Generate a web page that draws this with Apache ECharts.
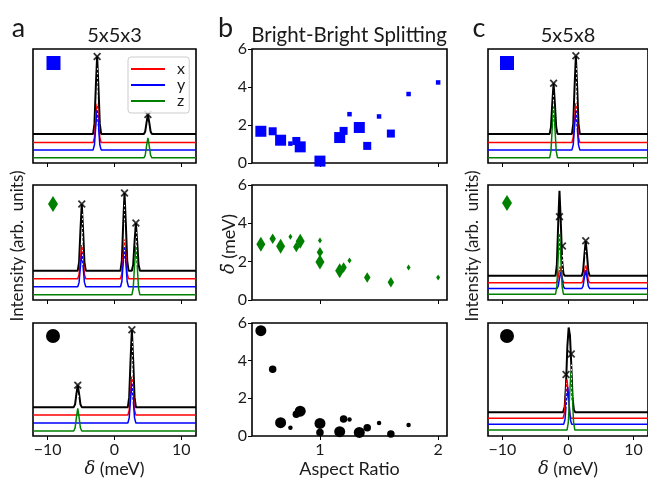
<!DOCTYPE html>
<html>
<head>
<meta charset="utf-8">
<script src="https://cdn.jsdelivr.net/npm/echarts@6/dist/echarts.min.js"></script>
<style>
  html, body { margin: 0; padding: 0; background: #fff; }
  #chart { width: 648px; height: 479px; }
</style>
</head>
<body>
<div id="chart"></div>
<script>
// spectra: [delta (meV), intensity]
const a1Black = [[-12.2,2.55],[-3.2,2.55],[-3.0,3.43],[-2.8,6.63],[-2.6,9.35],[-2.4,6.63],[-2.2,3.43],[-2.0,2.55],[4.4,2.55],[4.6,2.77],[4.8,3.57],[5.0,4.25],[5.2,3.57],[5.4,2.77],[5.6,2.55],[12.2,2.55]];
const a1Red = [[-12.2,1.8],[-3.2,1.8],[-3.0,2.25],[-2.8,3.85],[-2.6,5.2],[-2.4,3.85],[-2.2,2.25],[-2.0,1.8],[12.2,1.8]];
const a1Blue = [[-12.2,1.15],[-3.2,1.15],[-3.0,1.6],[-2.8,3.25],[-2.6,4.65],[-2.4,3.25],[-2.2,1.6],[-2.0,1.15],[12.2,1.15]];
const a1Green = [[-12.2,0.45],[4.4,0.45],[4.6,0.68],[4.8,1.5],[5.0,2.2],[5.2,1.5],[5.4,0.68],[5.6,0.45],[12.2,0.45]];
const a1Marks = [[-2.6,9.35],[5.0,4.25]];

const a2Black = [[-12.2,2.55],[-5.5,2.55],[-5.3,3.3],[-5.1,6.03],[-4.9,8.35],[-4.7,6.03],[-4.5,3.3],[-4.3,2.55],[0.9,2.55],[1.1,3.43],[1.3,6.6],[1.5,9.3],[1.7,6.6],[1.9,3.43],[2.1,2.55],[2.6,2.55],[2.8,3.09],[3.0,5.04],[3.2,6.7],[3.4,5.04],[3.6,3.09],[3.8,2.55],[12.2,2.55]];
const a2Red = [[-12.2,1.85],[-5.5,1.85],[-5.3,2.23],[-5.1,3.61],[-4.9,4.78],[-4.7,3.61],[-4.5,2.23],[-4.3,1.85],[0.9,1.85],[1.1,2.29],[1.3,3.89],[1.5,5.25],[1.7,3.89],[1.9,2.29],[2.1,1.85],[12.2,1.85]];
const a2Blue = [[-12.2,1.15],[-5.5,1.15],[-5.3,1.53],[-5.1,2.92],[-4.9,4.1],[-4.7,2.92],[-4.5,1.53],[-4.3,1.15],[0.9,1.15],[1.1,1.59],[1.3,3.19],[1.5,4.55],[1.7,3.19],[1.9,1.59],[2.1,1.15],[12.2,1.15]];
const a2Green = [[-12.2,0.45],[2.6,0.45],[2.8,1.0],[3.0,3.0],[3.2,4.7],[3.4,3.0],[3.6,1.0],[3.8,0.45],[12.2,0.45]];
const a2Marks = [[-4.9,8.35],[1.5,9.3],[3.2,6.7]];

const a3Black = [[-12.2,2.55],[-6.1,2.55],[-5.9,2.8],[-5.7,3.72],[-5.5,4.5],[-5.3,3.72],[-5.1,2.8],[-4.9,2.55],[2.0,2.55],[2.2,3.44],[2.4,6.66],[2.6,9.4],[2.8,6.66],[3.0,3.44],[3.2,2.55],[12.2,2.55]];
const a3Red = [[-12.2,1.85],[2.0,1.85],[2.2,2.29],[2.4,3.9],[2.6,5.27],[2.8,3.9],[3.0,2.29],[3.2,1.85],[12.2,1.85]];
const a3Blue = [[-12.2,1.15],[2.0,1.15],[2.2,1.6],[2.4,3.24],[2.6,4.63],[2.8,3.24],[3.0,1.6],[3.2,1.15],[12.2,1.15]];
const a3Green = [[-12.2,0.45],[-6.1,0.45],[-5.9,0.71],[-5.7,1.65],[-5.5,2.45],[-5.3,1.65],[-5.1,0.71],[-4.9,0.45],[12.2,0.45]];
const a3Marks = [[-5.5,4.5],[2.6,9.4]];

const c1Black = [[-12.2,2.55],[-2.8,2.55],[-2.6,3.13],[-2.4,5.22],[-2.2,7.0],[-2.0,5.22],[-1.8,3.13],[-1.6,2.55],[0.6,2.55],[0.8,3.44],[1.0,6.66],[1.2,9.4],[1.4,6.66],[1.6,3.44],[1.8,2.55],[12.2,2.55]];
const c1Red = [[-12.2,1.8],[0.6,1.8],[0.8,2.25],[1.0,3.86],[1.2,5.23],[1.4,3.86],[1.6,2.25],[1.8,1.8],[12.2,1.8]];
const c1Blue = [[-12.2,1.15],[0.6,1.15],[0.8,1.59],[1.0,3.2],[1.2,4.57],[1.4,3.2],[1.6,1.59],[1.8,1.15],[12.2,1.15]];
const c1Green = [[-12.2,0.45],[-2.8,0.45],[-2.6,1.04],[-2.4,3.15],[-2.2,4.95],[-2.0,3.15],[-1.8,1.04],[-1.6,0.45],[12.2,0.45]];
const c1Marks = [[-2.2,7.0],[1.2,9.4]];

const c2Black = [[-12.2,2.1],[-1.9,2.1],[-1.7,3.06],[-1.5,6.54],[-1.3,9.5],[-1.1,6.8],[-0.9,3.5],[-0.7,2.3],[-0.5,2.1],[2.1,2.1],[2.3,2.5],[2.5,3.93],[2.7,5.15],[2.9,3.93],[3.1,2.5],[3.3,2.1],[12.2,2.1]];
const c2Red = [[-12.2,1.5],[-1.8,1.5],[-1.6,1.68],[-1.4,2.34],[-1.2,2.9],[-1.0,2.34],[-0.8,1.68],[-0.6,1.5],[2.1,1.5],[2.3,1.7],[2.5,2.43],[2.7,3.05],[2.9,2.43],[3.1,1.7],[3.3,1.5],[12.2,1.5]];
const c2Blue = [[-12.2,1.0],[-1.7,1.0],[-1.5,1.19],[-1.3,1.87],[-1.1,2.45],[-0.9,1.87],[-0.7,1.19],[-0.5,1.0],[2.1,1.0],[2.3,1.21],[2.5,1.96],[2.7,2.6],[2.9,1.96],[3.1,1.21],[3.3,1.0],[12.2,1.0]];
const c2Green = [[-12.2,0.5],[-1.9,0.5],[-1.7,1.19],[-1.5,3.68],[-1.3,5.8],[-1.1,3.68],[-0.9,1.19],[-0.7,0.5],[12.2,0.5]];
const c2Marks = [[-1.3,7.25],[-0.85,4.7],[2.7,5.15]];

const c3Black = [[-12.2,2.1],[-0.75,2.1],[-0.5,2.6],[-0.3,4.6],[-0.1,7.9],[0.1,9.6],[0.3,8.9],[0.5,6.3],[0.7,3.3],[0.9,2.3],[1.1,2.1],[12.2,2.1]];
const c3Red = [[-12.2,1.57],[-0.75,1.57],[-0.55,2.01],[-0.35,3.62],[-0.15,5.0],[0.05,3.62],[0.25,2.01],[0.45,1.57],[12.2,1.57]];
const c3Blue = [[-12.2,1.05],[-0.65,1.05],[-0.45,1.48],[-0.25,3.03],[-0.05,4.35],[0.15,3.03],[0.35,1.48],[0.55,1.05],[12.2,1.05]];
const c3Green = [[-12.2,0.53],[-0.15,0.53],[0.05,1.21],[0.25,3.65],[0.45,5.73],[0.65,3.65],[0.85,1.21],[1.05,0.53],[12.2,0.53]];
const c3Marks = [[-0.3,5.45],[0.5,7.25]];

const specTicks = [-10, 0, 10];

// bright-bright splitting vs aspect ratio; rank = marker size class (1 small .. 3 large)
const bbSqX = [0.5, 0.6, 0.667, 0.75, 0.8, 0.833, 1.0, 1.167, 1.2, 1.25, 1.333, 1.4, 1.5, 1.6, 1.75, 2.0];
const bbSqY = [1.67, 1.67, 1.2, 1.02, 1.16, 0.85, 0.1, 1.34, 1.69, 2.57, 1.87, 0.9, 2.45, 1.55, 3.63, 4.24];
const bbSqRank = [3, 2, 3, 1, 2, 3, 3, 3, 2, 1, 3, 2, 1, 2, 1, 1];

const bbDiaX = [0.5, 0.6, 0.667, 0.75, 0.8, 0.833, 1.0, 1.0, 1.0, 1.167, 1.2, 1.25, 1.4, 1.6, 1.75, 2.0];
const bbDiaY = [2.91, 3.19, 2.8, 3.3, 2.77, 3.07, 3.1, 2.49, 1.98, 1.53, 1.69, 2.06, 1.18, 0.92, 1.69, 1.18];
const bbDiaRank = [3, 2, 3, 1, 2, 3, 1, 2, 3, 3, 2, 1, 2, 2, 1, 1];

const bbCirX = [0.5, 0.6, 0.667, 0.75, 0.8, 0.833, 1.0, 1.0, 1.167, 1.2, 1.25, 1.333, 1.4, 1.5, 1.6, 1.75];
const bbCirY = [5.59, 3.54, 0.71, 0.44, 1.16, 1.32, 0.67, 0.18, 0.23, 0.9, 0.88, 0.19, 0.44, 0.69, 0.1, 0.58];
const bbCirRank = [3, 2, 3, 1, 2, 3, 3, 2, 3, 2, 1, 3, 2, 1, 2, 1];

const bbYTicks = [0, 2, 4, 6];
const bbXTicks = [1, 2];

const FONT = 'Lato';
const TXT = '#1a1a1a';
const RED = '#ff0000', BLUE = '#0000ff', GREEN = '#008000';
const X_SYMBOL = 'path://M0,1.6 L1.6,0 L5,3.4 L8.4,0 L10,1.6 L6.6,5 L10,8.4 L8.4,10 L5,6.6 L1.6,10 L0,8.4 L3.4,5 Z';

const colLeft = [33, 252, 488];
const colWidth = [163, 195, 163];
const rowTop = [49, 185, 323];
const rowHeight = [114, 115, 114];

const chart = echarts.init(document.getElementById('chart'));

const grids = [], xAxes = [], yAxes = [], series = [];
const minus = v => (v < 0 ? '\u2212' + Math.abs(v) : String(v));

for (let r = 0; r < 3; r++) {
    for (let c = 0; c < 3; c++) {
        grids.push({
            left: colLeft[c], top: rowTop[r], width: colWidth[c], height: rowHeight[r],
            show: true, borderColor: '#000', borderWidth: 1.6, backgroundColor: 'transparent'
        });
        const isSpec = c !== 1;
        const idx = grids.length - 1;
        const ticks = isSpec ? specTicks : bbXTicks;
        const xa = {
            gridIndex: idx, type: 'value',
            min: isSpec ? -12.2 : 0.425, max: isSpec ? 12.2 : 2.075,
            axisLine: { show: false }, splitLine: { show: false },
            axisTick: { show: true, inside: false, length: 4, customValues: ticks, lineStyle: { color: '#000', width: 1 } },
            axisLabel: { show: r === 2, customValues: ticks, formatter: minus, fontSize: 16, color: TXT, fontFamily: FONT, margin: 6 }
        };
        if (r === 2) {
            xa.nameLocation = 'middle';
            xa.nameGap = 24;
            xa.name = isSpec ? '{i|\u03b4} (meV)' : 'Aspect Ratio';
            xa.nameTextStyle = { fontSize: 18, color: TXT, fontFamily: FONT, rich: { i: { fontSize: 18, fontStyle: 'italic', fontFamily: 'DejaVu Serif', color: TXT } } };
        }
        xAxes.push(xa);
        if (isSpec) {
            yAxes.push({ gridIndex: idx, type: 'value', min: 0, max: 10, show: false });
        } else {
            yAxes.push({
                gridIndex: idx, type: 'value', min: 0, max: 6, interval: 2,
                axisLine: { show: false }, splitLine: { show: false },
                axisTick: { show: true, inside: false, length: 4, lineStyle: { color: '#000', width: 1 } },
                axisLabel: { fontSize: 16, color: TXT, fontFamily: FONT, margin: 5 }
            });
        }
    }
}

const lineBase = { type: 'line', symbol: 'none', showSymbol: false, animation: false, silent: true };

function addSpectrum(idx, black, red, blue, green, marks) {
    const base = black[0][1];
    series.push(Object.assign({}, lineBase, {
        name: 'sum', xAxisIndex: idx, yAxisIndex: idx, data: black,
        lineStyle: { color: '#000', width: 2 }, itemStyle: { color: '#000' },
        markLine: {
            silent: true, symbol: 'none', label: { show: false }, animation: false,
            lineStyle: { color: '#fff', type: [1.5, 3], width: 1 },
            data: marks.map(m => [{ coord: [m[0], base + 0.5] }, { coord: [m[0], m[1] - 0.8] }])
        }
    }));
    series.push({
        type: 'scatter', xAxisIndex: idx, yAxisIndex: idx, data: marks, silent: true, animation: false,
        symbol: X_SYMBOL, symbolSize: 8, itemStyle: { color: '#000' }
    });
    [[red, 'x', RED], [blue, 'y', BLUE], [green, 'z', GREEN]].forEach(([d, name, col]) => {
        series.push(Object.assign({}, lineBase, {
            name: name, xAxisIndex: idx, yAxisIndex: idx, data: d,
            lineStyle: { color: col, width: 1.5 }, itemStyle: { color: col }
        }));
    });
}

addSpectrum(0, a1Black, a1Red, a1Blue, a1Green, a1Marks);
addSpectrum(2, c1Black, c1Red, c1Blue, c1Green, c1Marks);
addSpectrum(3, a2Black, a2Red, a2Blue, a2Green, a2Marks);
addSpectrum(5, c2Black, c2Red, c2Blue, c2Green, c2Marks);
addSpectrum(6, a3Black, a3Red, a3Blue, a3Green, a3Marks);
addSpectrum(8, c3Black, c3Red, c3Blue, c3Green, c3Marks);

const sqPx = { 1: 4.5, 2: 8, 3: 11 };
const diaPx = { 1: [4, 6], 2: [6.5, 10.5], 3: [9, 15] };
const cirPx = { 1: 4.5, 2: 7.5, 3: 11 };

function addScatter(idx, xs, ys, ranks, symbol, sizes, col) {
    series.push({
        type: 'scatter', xAxisIndex: idx, yAxisIndex: idx, animation: false, silent: true,
        data: xs.map((x, i) => [x, ys[i], ranks[i]]),
        symbol: symbol, symbolSize: v => sizes[v[2]],
        itemStyle: { color: col, opacity: 1 }
    });
}
addScatter(1, bbSqX, bbSqY, bbSqRank, 'rect', sqPx, BLUE);
addScatter(4, bbDiaX, bbDiaY, bbDiaRank, 'diamond', diaPx, GREEN);
addScatter(7, bbCirX, bbCirY, bbCirRank, 'circle', cirPx, '#000');

const txt = (text, x, y, size, extra) => Object.assign({
    type: 'text', x: x, y: y, silent: true,
    style: { text: text, fill: TXT, font: size + 'px ' + FONT, align: 'center', verticalAlign: 'middle' }
}, extra || {});

const graphic = [
    txt('a', 18.5, 28, 27),
    txt('b', 225.5, 28, 27),
    txt('c', 479, 28, 27),
    txt('5x5x3', 114.5, 35.5, 20),
    txt('Bright-Bright Splitting', 349, 35, 20.5),
    txt('5x5x8', 568, 35.5, 20),
    txt('Intensity (arb.\u00a0\u00a0units)', 17.5, 246, 17, { rotation: Math.PI / 2 }),
    txt('Intensity (arb.\u00a0\u00a0units)', 472.5, 246, 17, { rotation: Math.PI / 2 }),
    {
        type: 'text', x: 229, y: 244, rotation: Math.PI / 2, silent: true,
        style: {
            text: '{i|\u03b4\u0304} (meV)', fill: TXT, font: '18px ' + FONT, align: 'center', verticalAlign: 'middle',
            rich: { i: { fontStyle: 'italic', fontFamily: 'DejaVu Serif', fontSize: 18, fill: TXT } }
        }
    },
    // panel shape keys
    { type: 'rect', silent: true, shape: { x: 46.5, y: 56, width: 14, height: 14 }, style: { fill: BLUE } },
    { type: 'rect', silent: true, shape: { x: 500, y: 56, width: 14, height: 14 }, style: { fill: BLUE } },
    { type: 'polygon', silent: true, shape: { points: [[53, 196], [58, 204], [53, 212], [48, 204]] }, style: { fill: GREEN } },
    { type: 'polygon', silent: true, shape: { points: [[507, 195], [512, 203], [507, 211], [502, 203]] }, style: { fill: GREEN } },
    { type: 'circle', silent: true, shape: { cx: 53, cy: 336, r: 7 }, style: { fill: '#000' } },
    { type: 'circle', silent: true, shape: { cx: 507, cy: 336, r: 7 }, style: { fill: '#000' } }
];

chart.setOption({
    backgroundColor: '#fff',
    animation: false,
    grid: grids,
    xAxis: xAxes,
    yAxis: yAxes,
    legend: {
        data: ['x', 'y', 'z'], orient: 'vertical', left: 128, top: 57,
        selectedMode: false, icon: 'rect', itemWidth: 34, itemHeight: 2, itemGap: 0,
        padding: [4, 4, 4, 3],
        backgroundColor: 'rgba(255,255,255,0.85)', borderColor: '#cccccc', borderWidth: 1, borderRadius: 3,
        textStyle: { fontSize: 16, lineHeight: 14.5, color: TXT, fontFamily: FONT, padding: [0, 0, 0, 7] }
    },
    series: series,
    graphic: graphic
});
</script>
</body>
</html>
